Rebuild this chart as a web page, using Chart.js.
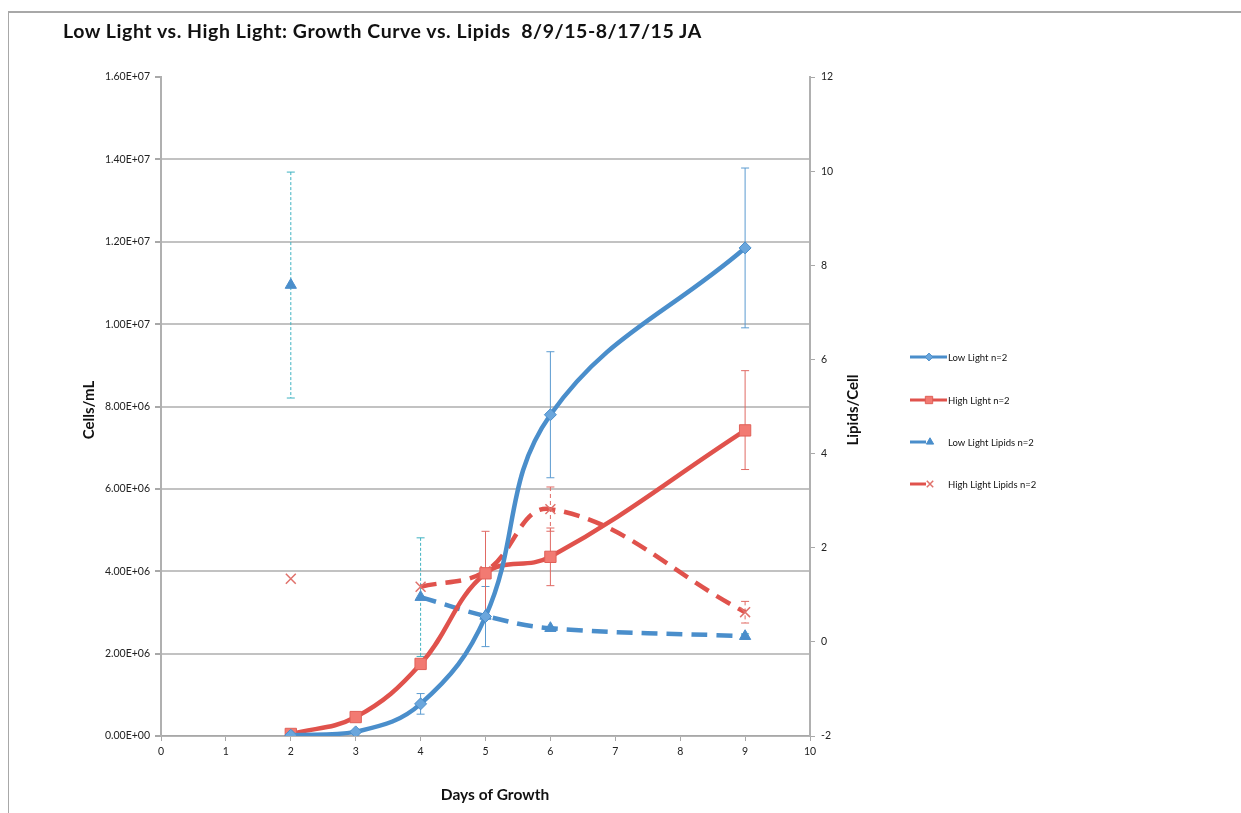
<!DOCTYPE html>
<html>
<head>
<meta charset="utf-8">
<script src="https://cdn.jsdelivr.net/npm/chart.js@4/dist/chart.umd.min.js"></script>
<style>
html,body{margin:0;padding:0;background:#fff;}
#wrap{position:relative;width:1241px;height:813px;overflow:hidden;background:#fff;}
#frame{position:absolute;left:8px;top:11px;width:1240px;height:810px;border-left:1px solid #a8a8a8;border-top:2px solid #a8a8a8;}
#title{position:absolute;left:63px;top:19px;font-family:Lato,"Open Sans",sans-serif;font-weight:bold;font-size:19.5px;letter-spacing:0.55px;color:#111;white-space:pre;}
#c{position:absolute;left:0;top:0;}
</style>
</head>
<body>
<div id="wrap">
<div id="frame"></div>
<canvas id="c" width="1241" height="813"></canvas>
<div id="title">Low Light vs. High Light: Growth Curve vs. Lipids  8/9/15-8/17/15 JA</div>
</div>
<script>
// ---- data ----
const days = [2, 3, 4, 5, 6, 9];
const lowLight = [20000, 100000, 780000, 2900000, 7800000, 11850000];
const highLight = [50000, 460000, 1750000, 3950000, 4350000, 7420000];
const lowLipids = [7.58, null, 0.95, 0.55, 0.29, 0.12];
const highLipids = [1.34, null, 1.17, 1.5, 2.82, 0.63];
const lowLightErrPlus = [0, 0, 250000, 730000, 1530000, 1940000];
const lowLightErrMinus = [0, 0, 250000, 730000, 1530000, 1940000];
const highLightErrPlus = [0, 0, 0, 1020000, 700000, 1450000];
const highLightErrMinus = [0, 0, 0, 1020000, 700000, 950000];
const lowLipidsErr = [2.4, null, 1.26, 0, 0, 0.05];
const highLipidsErr = [0, null, 0, 0, 0.47, 0.23];
const seriesNames = ["Low Light n=2", "High Light n=2", "Low Light Lipids n=2", "High Light Lipids n=2"];
const leftTicksMax = 16000000;
const rightMin = -2, rightMax = 12;

const BLUE = "#4a8ecb", RED = "#e0524c";

function pts(vals) { return days.map((d, i) => ({ x: d, y: vals[i] })); }
function sci(v) {
  if (v === 0) return "0.00E+00";
  const s = v.toExponential(2).toUpperCase();
  const m = s.match(/^([\d.]+)E([+-])(\d+)$/);
  return m[1] + "E" + m[2] + (m[3].length < 2 ? "0" + m[3] : m[3]);
}
const FONT = "Lato, 'Open Sans', sans-serif";

const errorBars = {
  id: 'errorBars',
  beforeDatasetsDraw(chart) {
    const ctx = chart.ctx;
    const xs = chart.scales.x;
    chart.data.datasets.forEach((ds) => {
      const ys = chart.scales[ds.yAxisID];
      ctx.save();
      ctx.strokeStyle = ds.errColor;
      ctx.lineWidth = 1;
      days.forEach((d, i) => {
        const v = ds.rawVals[i];
        if (v === null) return;
        const up = ds.errPlus[i], dn = ds.errMinus[i];
        if (!up && !dn) return;
        const px = xs.getPixelForValue(d);
        const pTop = ys.getPixelForValue(v + up);
        const pBot = ys.getPixelForValue(v - dn);
        ctx.setLineDash(ds.errDash || []);
        ctx.beginPath();
        ctx.moveTo(px, pTop); ctx.lineTo(px, pBot);
        ctx.stroke();
        ctx.setLineDash([]);
        ctx.beginPath();
        ctx.moveTo(px - 4, pTop); ctx.lineTo(px + 4, pTop);
        ctx.moveTo(px - 4, pBot); ctx.lineTo(px + 4, pBot);
        ctx.stroke();
      });
      ctx.restore();
    });
  }
};

const extras = {
  id: 'extras',
  afterDraw(chart) {
    const ctx = chart.ctx;
    ctx.save();
    ctx.fillStyle = "#111";
    ctx.textAlign = "center";
    ctx.textBaseline = "middle";
    ctx.font = "bold 15.5px " + FONT;
    ctx.fillText("Days of Growth", 495, 795);
    ctx.font = "bold 15px " + FONT;
    ctx.save(); ctx.translate(89, 410); ctx.rotate(-Math.PI / 2);
    ctx.fillText("Cells/mL", 0, 0); ctx.restore();
    ctx.save(); ctx.translate(853, 410); ctx.rotate(-Math.PI / 2);
    ctx.fillText("Lipids/Cell", 0, 0); ctx.restore();
    // legend
    const ly = [357, 400, 442, 484];
    ctx.font = "9.5px " + FONT;
    ctx.textAlign = "left";
    chart.data.datasets.forEach((ds, i) => {
      const y = ly[i];
      ctx.strokeStyle = ds.borderColor;
      ctx.lineWidth = 3;
      ctx.setLineDash([]);
      ctx.beginPath();
      if (i < 2) { ctx.moveTo(910, y); ctx.lineTo(947, y); }
      else { ctx.moveTo(910, y); ctx.lineTo(926, y); }
      ctx.stroke();
      const mx = i < 2 ? 929 : 930;
      ctx.fillStyle = ds.pointBackgroundColor;
      ctx.strokeStyle = ds.pointBorderColor;
      ctx.lineWidth = ds.pointBorderWidth || 1;
      Chart.helpers.drawPoint(ctx, {
        pointStyle: ds.pointStyle, radius: ds.pointRadius * 0.65, borderWidth: ds.pointBorderWidth || 1
      }, mx, y);
      ctx.fillStyle = "#111";
      ctx.fillText(seriesNames[i], 948, y + 1);
    });
    ctx.restore();
  }
};

new Chart(document.getElementById('c'), {
  type: 'line',
  data: {
    datasets: [
      {
        label: seriesNames[0], data: pts(lowLight), rawVals: lowLight, yAxisID: 'y',
        errPlus: lowLightErrPlus, errMinus: lowLightErrMinus, errColor: "#5b9bd0",
        borderColor: BLUE, borderWidth: 4.5, tension: 0.4,
        pointStyle: 'rectRot', pointRadius: 6, pointBackgroundColor: "#6aa6dc", pointBorderColor: BLUE, pointBorderWidth: 1
      },
      {
        label: seriesNames[1], data: pts(highLight), rawVals: highLight, yAxisID: 'y',
        errPlus: highLightErrPlus, errMinus: highLightErrMinus, errColor: "#e06a64",
        borderColor: RED, borderWidth: 4.5, tension: 0.4,
        pointStyle: 'rect', pointRadius: 8, pointBackgroundColor: "#f27a72", pointBorderColor: "#e06058", pointBorderWidth: 1
      },
      {
        label: seriesNames[2], data: pts(lowLipids), rawVals: lowLipids, yAxisID: 'y1',
        errPlus: lowLipidsErr, errMinus: lowLipidsErr, errColor: "#3fb2c2", errDash: [3, 2],
        borderColor: BLUE, borderWidth: 4.5, borderDash: [16, 9], tension: 0.4,
        pointStyle: 'triangle', pointRadius: 6.5, pointBackgroundColor: BLUE, pointBorderColor: BLUE, pointBorderWidth: 1
      },
      {
        label: seriesNames[3], data: pts(highLipids), rawVals: highLipids, yAxisID: 'y1',
        errPlus: highLipidsErr, errMinus: highLipidsErr, errColor: "#e06a64", errDash: [4, 3],
        borderColor: RED, borderWidth: 4.5, borderDash: [16, 9], tension: 0.4,
        pointStyle: 'crossRot', pointRadius: 7, pointBackgroundColor: RED, pointBorderColor: "#e0716b", pointBorderWidth: 1.5
      }
    ]
  },
  options: {
    responsive: false,
    animation: false,
    devicePixelRatio: 1,
    layout: { padding: { left: 0, right: 0, top: 77, bottom: 0 } },
    plugins: { legend: { display: false }, title: { display: false }, tooltip: { enabled: false } },
    scales: {
      x: {
        type: 'linear', min: 0, max: 10,
        ticks: { stepSize: 1, color: "#222", font: { family: FONT, size: 10.5 }, padding: 4 },
        grid: { drawOnChartArea: false, tickLength: 5, color: "#a8a8a8" },
        border: { color: "#a8a8a8", width: 1.5 },
        afterFit(s) { s.height = 77; }
      },
      y: {
        type: 'linear', position: 'left', min: 0, max: leftTicksMax,
        ticks: { stepSize: 2000000, color: "#222", font: { family: FONT, size: 10.5 }, padding: 5, callback: v => sci(v) },
        grid: {
          color: ctx => (ctx.tick && ctx.tick.value === leftTicksMax) ? "rgba(0,0,0,0)" : "#c2c2c2",
          lineWidth: 2, tickLength: 6,
          tickColor: "#a8a8a8"
        },
        border: { color: "#b0b0b0", width: 2 },
        afterFit(s) { s.width = 161; }
      },
      y1: {
        type: 'linear', position: 'right', min: rightMin, max: rightMax,
        ticks: { stepSize: 2, color: "#222", font: { family: FONT, size: 10.5 }, padding: 6 },
        grid: { drawOnChartArea: false, tickLength: 5, color: "#a8a8a8" },
        border: { color: "#b0b0b0", width: 2 },
        afterFit(s) { s.width = 431; }
      }
    }
  },
  plugins: [errorBars, extras]
});
</script>
</body>
</html>
